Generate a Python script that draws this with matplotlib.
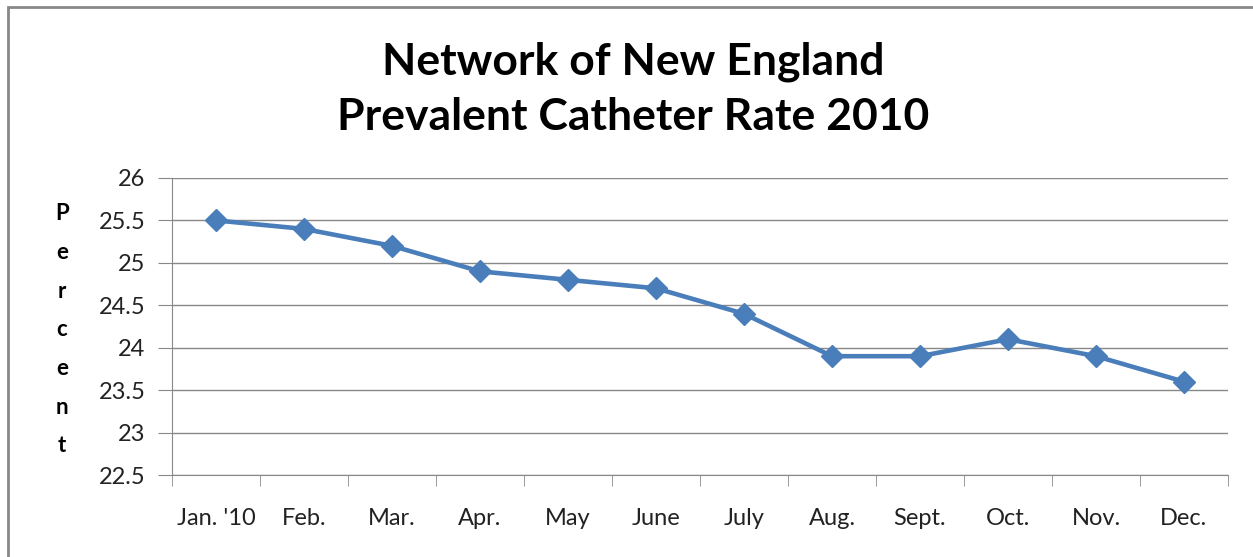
import numpy as np
import matplotlib.pyplot as plt
from matplotlib.patches import Rectangle

# data
months = ["Jan. '10", "Feb.", "Mar.", "Apr.", "May", "June", "July",
          "Aug.", "Sept.", "Oct.", "Nov.", "Dec."]
rate = [25.5, 25.4, 25.2, 24.9, 24.8, 24.7, 24.4, 23.9, 23.9, 24.1, 23.9, 23.6]
yticks = [22.5, 23, 23.5, 24, 24.5, 25, 25.5, 26]

plt.rcParams['font.family'] = ['Lato', 'DejaVu Sans']

W, H = 1253, 557
fig = plt.figure(figsize=(W / 100, H / 100), dpi=100)
# plot area in pixels: x 172..1228, y 178..475
ax = fig.add_axes([172 / W, 1 - 475 / H, (1228 - 172) / W, (475 - 178) / H])

x = np.arange(len(months))
ax.plot(x, rate, color='#4A7EBB', lw=3.3, marker='D', markersize=11, zorder=3)

ax.set_xlim(-0.5, len(months) - 0.5)
ax.set_ylim(22.5, 26)
ax.set_yticks(yticks)
ax.set_yticklabels([('%g' % v) for v in yticks], fontsize=17, color='#222222')
ax.set_xticks(x)
ax.set_xticklabels(months, fontsize=17, color='#222222')
ax.tick_params(axis='x', length=0, pad=24)
ax.tick_params(axis='y', length=10, color='#888888', pad=9)
# boundary ticks between categories
ax.set_xticks(np.arange(-0.5, len(months)), minor=True)
ax.tick_params(axis='x', which='minor', length=8, color='#888888')

ax.grid(axis='y', color='#888888', lw=1)
ax.set_axisbelow(True)
for s in ['top', 'right']:
    ax.spines[s].set_visible(False)
ax.spines['left'].set_color('#888888')
ax.spines['bottom'].set_color('#888888')

fig.text(633 / W, 1 - 89 / H, "Network of New England\nPrevalent Catheter Rate 2010",
         ha='center', va='center', fontsize=32, fontweight='bold',
         linespacing=1.45)

# y label letters stacked
for i, ch in enumerate("Percent"):
    fig.text(62 / W, 1 - (214 + i * 38.6) / H, ch, ha='center', va='center',
             fontsize=16, fontweight='bold')

# outer border
fig.patches.append(Rectangle((8 / W, -0.1), 1.2, 1 - 7 / H + 0.1,
                             transform=fig.transFigure, fill=False,
                             edgecolor='#888888', lw=2))

fig.savefig('out.png', dpi=100)
